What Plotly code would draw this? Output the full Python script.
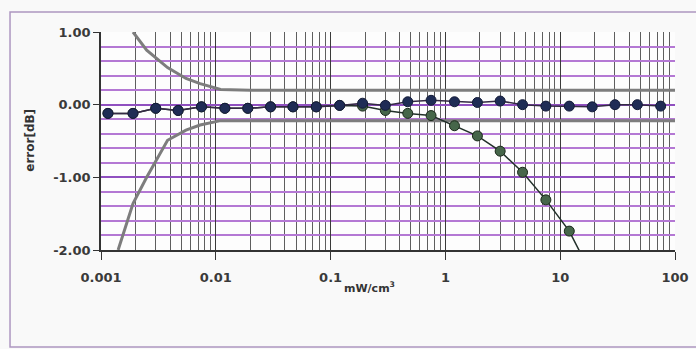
import plotly.graph_objects as go

# ---- data ----
power = [0.00115, 0.0019, 0.003, 0.0047, 0.0075, 0.012, 0.019, 0.03, 0.047, 0.075,
         0.12, 0.19, 0.3, 0.47, 0.75, 1.2, 1.9, 3.0, 4.7, 7.5, 12, 19, 30, 47, 75]
err_linear = [-0.12, -0.12, -0.05, -0.08, -0.03, -0.05, -0.05, -0.03, -0.03, -0.03,
              -0.01, 0.02, -0.01, 0.04, 0.06, 0.04, 0.03, 0.05, 0.0, -0.02,
              -0.02, -0.03, -0.0, 0.0, -0.02]

power_sat = [0.00115, 0.0019, 0.003, 0.0047, 0.0075, 0.012, 0.019, 0.03, 0.047, 0.075,
             0.12, 0.19, 0.3, 0.47, 0.75, 1.2, 1.9, 3.0, 4.7, 7.5, 12, 15.8]
err_sat = [-0.12, -0.12, -0.05, -0.08, -0.03, -0.05, -0.05, -0.03, -0.03, -0.03,
           -0.01, -0.02, -0.08, -0.12, -0.15, -0.29, -0.43, -0.64, -0.93, -1.31, -1.74, -2.11]
sat_marker_size = [10] * 21 + [0]

bound_x = [0.0019, 0.0025, 0.0038, 0.0055, 0.0073, 0.011, 0.02, 0.1, 1, 10, 100]
bound_upper = [1.0, 0.75, 0.51, 0.36, 0.29, 0.21, 0.2, 0.2, 0.2, 0.2, 0.2]
bound_lx = [0.00141, 0.0019, 0.0025, 0.0038, 0.0055, 0.0073, 0.011, 0.02, 0.1, 1, 10, 100]
bound_lower = [-2.0, -1.36, -1.0, -0.49, -0.35, -0.28, -0.22, -0.22, -0.22, -0.22, -0.22, -0.22]

x_major = [0.001, 0.01, 0.1, 1, 10, 100]
x_major_text = ["0.001", "0.01", "0.1", "1", "10", "100"]
x_minor = [m * d for d in [0.001, 0.01, 0.1, 1, 10] for m in range(2, 10)]
y_major = [1, 0, -1, -2]
y_major_text = ["1.00", "0.00", "-1.00", "-2.00"]

tick_font = dict(family="DejaVu Sans", size=13, color="#3a3a3a", weight="bold")

fig = go.Figure()
fig.add_trace(go.Scatter(x=bound_x, y=bound_upper, mode="lines",
                         line=dict(color="#7d7d7d", width=3), showlegend=False))
fig.add_trace(go.Scatter(x=bound_lx, y=bound_lower, mode="lines",
                         line=dict(color="#7d7d7d", width=3), showlegend=False))
fig.add_trace(go.Scatter(x=power_sat, y=err_sat, mode="lines+markers",
                         line=dict(color="#22302a", width=1.5),
                         marker=dict(size=sat_marker_size, color="#46664a", opacity=1,
                                     line=dict(color="#1a281a", width=1)),
                         showlegend=False))
fig.add_trace(go.Scatter(x=power, y=err_linear, mode="lines+markers",
                         line=dict(color="#342a44", width=1.5),
                         marker=dict(size=10, color="#1f2c55", opacity=1,
                                     line=dict(color="#141c38", width=1)),
                         showlegend=False))

fig.update_xaxes(type="log", range=[-3, 2], tickvals=x_major, ticktext=x_major_text,
                 tickfont=tick_font, showgrid=True, gridcolor="#3a3a3a", gridwidth=1,
                 showline=True, linecolor="#333333", linewidth=1.5,
                 ticks="outside", ticklen=8, tickcolor="#333333", ticklabelstandoff=7,
                 minor=dict(tickvals=x_minor, showgrid=True, gridcolor="#5e5e5e",
                            gridwidth=1, ticks=""),
                 zeroline=False, automargin=False)
fig.update_yaxes(range=[-2, 1], tickvals=y_major, ticktext=y_major_text,
                 tickfont=tick_font, showgrid=True, gridcolor="#9050c0", gridwidth=1.5,
                 showline=True, linecolor="#333333", linewidth=1.5,
                 ticks="outside", ticklen=6, tickcolor="#333333",
                 minor=dict(dtick=0.2, showgrid=True, gridcolor="#b478d4", gridwidth=1.5),
                 zeroline=False, automargin=False)

fig.add_annotation(text="mW/cm<sup>3</sup>", xref="paper", yref="paper",
                   x=0.467, y=-0.17, xanchor="center", yanchor="middle", showarrow=False,
                   font=dict(family="DejaVu Sans", size=11, color="#333333", weight="bold"))
fig.add_annotation(text="error[dB]", xref="paper", yref="paper",
                   x=-0.124, y=0.505, xanchor="center", yanchor="middle",
                   showarrow=False, textangle=-90,
                   font=dict(family="DejaVu Sans", size=12, color="#333333", weight="bold"))
fig.add_shape(type="rect", xref="paper", yref="paper",
              x0=-0.1585, x1=1.06, y0=-0.445, y1=1.092,
              line=dict(color="#ad96c0", width=1.5), layer="below")

fig.update_layout(width=696, height=349,
                  margin=dict(l=101, r=21, t=32, b=99),
                  paper_bgcolor="#f9f9f9", plot_bgcolor="#fdfdfd")

fig.write_html("out.html", config={"displayModeBar": False},
               post_script="document.body.style.margin='0px';document.body.style.overflow='hidden';")
